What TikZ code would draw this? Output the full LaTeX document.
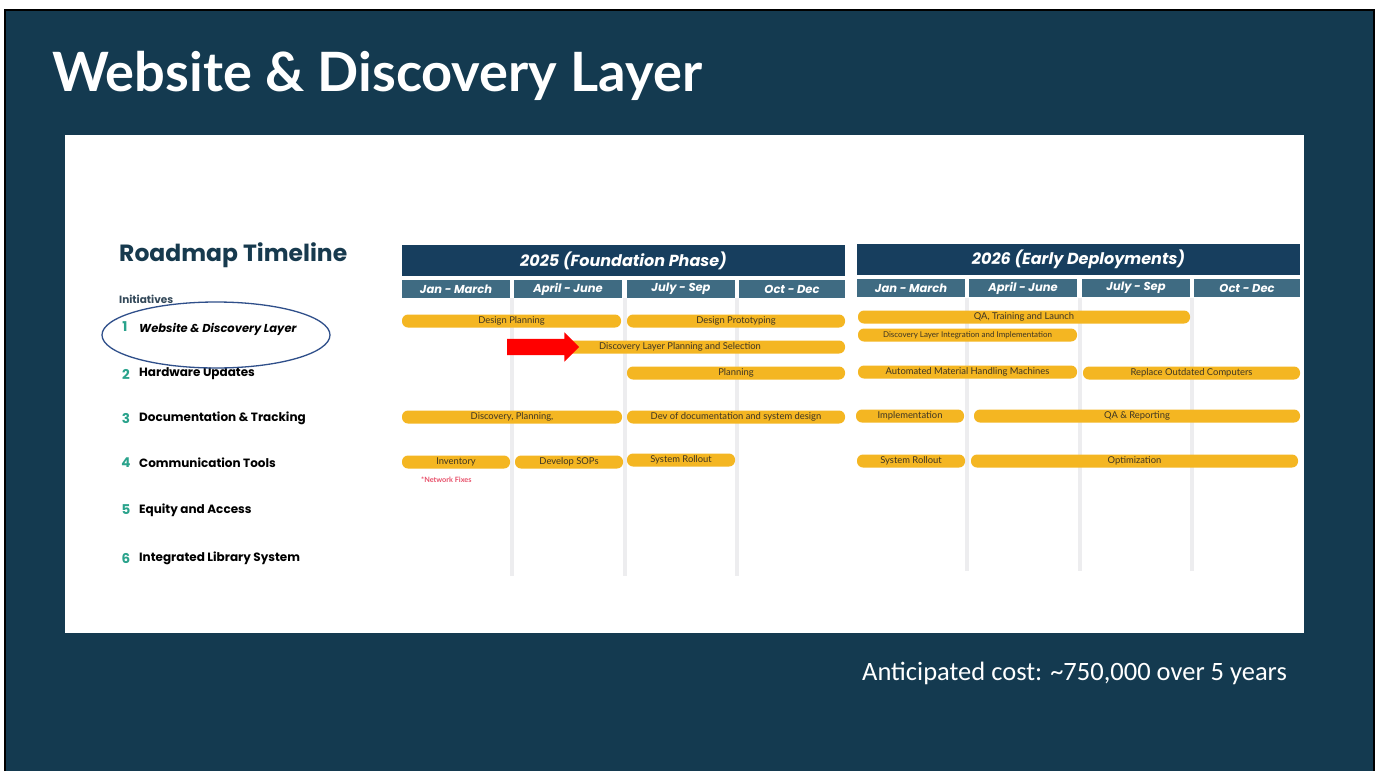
\documentclass[tikz,border=0pt]{standalone}
\usepackage{fontspec}
\usetikzlibrary{shapes.arrows}
\setmainfont{Lato}
\newfontfamily\popfont{Poppins}
\newfontfamily\latofont{Lato}
\newfontfamily\calfont{Carlito}

\definecolor{slidebg}{HTML}{143A50}
\definecolor{yearhd}{HTML}{173E5E}
\definecolor{qtrhd}{HTML}{3F6B82}
\definecolor{barY}{HTML}{F4B622}
\definecolor{barT}{HTML}{3E3522}
\definecolor{gridL}{HTML}{EDEDEF}
\definecolor{numT}{HTML}{2AA38C}
\definecolor{headT}{HTML}{173A4E}
\definecolor{initT}{HTML}{34495A}
\definecolor{ringC}{HTML}{2F4F8A}
\definecolor{noteR}{HTML}{E8506A}

\tikzset{
  gbar/.style={fill=barY, rounded corners=6pt, minimum height=13pt, inner sep=0pt,
    text=barT, font=\latofont\fontsize{9.4}{10}\selectfont},
  yearbox/.style={fill=yearhd, minimum height=31pt, inner sep=0pt, text=white,
    font=\popfont\bfseries\itshape\fontsize{16}{18}\selectfont},
  qtrbox/.style={fill=qtrhd, minimum height=18pt, inner sep=0pt, text=white,
    font=\popfont\bfseries\itshape\fontsize{11.5}{13}\selectfont},
  gridline/.style={draw=gridL, line width=4pt},
  initem/.style={anchor=west, inner sep=0pt, text=black,
    font=\popfont\bfseries\fontsize{12}{14}\selectfont},
  innum/.style={anchor=center, inner sep=0pt, text=numT,
    font=\popfont\bfseries\fontsize{13.5}{15}\selectfont},
}

% bar: name, left x, right x, centre y, label
\newcommand{\gbar}[6][]{%
  \pgfmathsetmacro{\bw}{#4-#3}%
  \pgfmathsetmacro{\bc}{(#3+#4)/2}%
  \node[gbar, minimum width=\bw pt, #1] (#2) at (\bc,#5) {#6};}

\begin{document}
\begin{tikzpicture}[x=1pt,y=-1pt]
\useasboundingbox (0,0) rectangle (1380,771);
\fill[white] (0,0) rectangle (1380,771);

% slide background
\fill[slidebg] (5,10) rectangle (1374,771);
\draw[black, line width=2pt] (5,771) -- (5,10) -- (1374,10) -- (1374,771);

% slide title
\node[anchor=west, inner sep=0pt, text=white] (title) at (52,76)
  {\resizebox{650pt}{!}{\latofont\bfseries Website \& Discovery Layer}};

% white panel
\fill[white] (65,135) rectangle (1304,633);

% quarter grid lines
\foreach \gx in {512,625,737} \draw[gridline] (\gx,298) -- (\gx,576);
\foreach \gx in {967,1080,1192} \draw[gridline] (\gx,298) -- (\gx,571);

% year headers
\node[yearbox, minimum width=443pt] (y25) at (623.5,260.5) {2025 (Foundation Phase)};
\node[yearbox, minimum width=443pt] (y26) at (1078.5,259.5) {2026 (Early Deployments)};

% quarter headers
\node[qtrbox, minimum width=108pt] (q251) at (456,289) {Jan - March};
\node[qtrbox, minimum width=108pt] (q252) at (568,289) {April - June};
\node[qtrbox, minimum width=108pt] (q253) at (681,289) {July - Sep};
\node[qtrbox, minimum width=106pt] (q254) at (792,289) {Oct - Dec};
\node[qtrbox, minimum width=108pt] (q261) at (911,288) {Jan - March};
\node[qtrbox, minimum width=108pt] (q262) at (1023,288) {April - June};
\node[qtrbox, minimum width=108pt] (q263) at (1136,288) {July - Sep};
\node[qtrbox, minimum width=106pt] (q264) at (1247,288) {Oct - Dec};

% left column
\node[anchor=west, inner sep=0pt, text=headT] (rmt) at (119,255)
  {\resizebox{228pt}{!}{\popfont\bfseries Roadmap Timeline}};
\node[anchor=west, inner sep=0pt, text=initT,
  font=\popfont\bfseries\fontsize{10.5}{12}\selectfont] (init) at (119,299) {Initiatives};

\node[innum] (n1) at (125,327) {1};
\node[initem, font=\popfont\bfseries\itshape\fontsize{11.5}{14}\selectfont] (i1) at (139,329) {Website \& Discovery Layer};
\node[innum] (n2) at (126,374) {2};
\node[initem] (i2) at (139,374) {Hardware Updates};
\node[innum] (n3) at (126,418) {3};
\node[initem] (i3) at (139,418) {Documentation \& Tracking};
\node[innum] (n4) at (126,463) {4};
\node[initem] (i4) at (139,463) {Communication Tools};
\node[innum] (n5) at (126,510) {5};
\node[initem] (i5) at (139,510) {Equity and Access};
\node[innum] (n6) at (126,558) {6};
\node[initem] (i6) at (139,558) {Integrated Library System};

\draw[ringC, line width=1.3pt] (216,335) ellipse (114pt and 33pt);

% 2025 bars
\gbar{b1}{402}{621}{321}{Design Planning}
\gbar{b2}{627}{845}{321}{Design Prototyping}
\gbar{b3}{515}{845}{347}{Discovery Layer Planning and Selection}
\gbar{b4}{627}{845}{373}{Planning}
\gbar{b5}{402}{622}{417}{Discovery, Planning,}
\gbar{b6}{627}{845}{417}{Dev of documentation and system design}
\gbar{b7}{402}{510}{462}{Inventory}
\gbar{b8}{515}{623}{462}{Develop SOPs}
\gbar{b9}{627}{735}{460}{System Rollout}
\node[anchor=west, inner sep=0pt, text=noteR,
  font=\latofont\bfseries\fontsize{7.3}{8}\selectfont] (note) at (421,480) {*Network Fixes};

% 2026 bars
\gbar{c1}{858}{1190}{317}{QA, Training and Launch}
\gbar[font=\latofont\fontsize{8}{9}\selectfont]{c2}{858}{1077}{335}{Discovery Layer Integration and Implementation}
\gbar{c3}{858}{1077}{372}{Automated Material Handling Machines}
\gbar{c4}{1083}{1300}{373}{Replace Outdated Computers}
\gbar{c5}{856}{964}{416}{Implementation}
\gbar{c6}{974}{1300}{416}{QA \& Reporting}
\gbar{c7}{857}{965}{461}{System Rollout}
\gbar{c8}{971}{1298}{461}{Optimization}

% red pointer arrow (shaft 16pt, head 29pt wide)
\node[single arrow, fill=red, draw=none, inner xsep=0pt, inner ysep=8pt,
  minimum height=72pt, minimum width=29pt,
  single arrow head extend=6.5pt, single arrow head indent=0pt] (ptr) at (539,347) {};

% cost note
\node[anchor=west, inner sep=0pt, text=white,
  font=\calfont\fontsize{26.5}{30}\selectfont] (cost) at (862,673)
  {Anticipated cost: \textasciitilde750,000 over 5 years};
\end{tikzpicture}
\end{document}
